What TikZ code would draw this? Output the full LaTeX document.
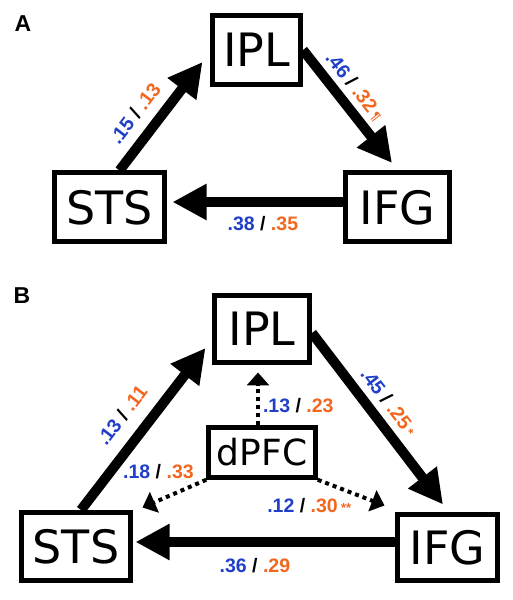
\documentclass[tikz,border=0pt]{standalone}
\usepackage{fontspec}
\newfontfamily\boxfont{DejaVu Sans}
\newfontfamily\labfont{Liberation Sans}
\definecolor{cblue}{HTML}{1F3FC8}
\definecolor{corange}{HTML}{F2661E}
\newcommand\bigFont{\boxfont\fontsize{46}{50}\selectfont}
\newcommand\midFont{\boxfont\fontsize{36}{40}\selectfont}
\newcommand\coefFont{\labfont\bfseries\fontsize{19.5}{22}\selectfont}
\newcommand\pair[2]{{\color{cblue}#1} / {\color{corange}#2}}
\newcommand\sig[1]{\,{\color{corange}\fontsize{13}{13}\selectfont #1}}
\usetikzlibrary{arrows.meta, positioning}
\tikzstyle{region} = [rectangle, draw=black, line width=5pt, inner sep=0pt, minimum height=69pt, text centered, font=\bigFont]
\tikzstyle{small} = [region, line width=4.5pt, minimum height=50pt, font=\midFont]
\tikzstyle{panel} = [font=\labfont\bfseries\fontsize{23}{26}\selectfont]
\tikzstyle{coef} = [inner sep=0pt, font=\coefFont]
\tikzstyle{arrow} = [line width=10pt, -{Triangle[length=34pt,width=34pt]}]
\tikzstyle{dotarrow} = [line width=4pt, dash pattern=on 4pt off 4pt, -{Triangle[length=13pt,width=22pt]}]

\begin{document}
\begin{tikzpicture} [x=1pt, y=1pt]
\useasboundingbox (0,0) rectangle (512,600);
% panel A
\node (A) [panel] at (23,576.5) {A};
\node (IPLa) [region, minimum width=88pt] at (256.5,550) {IPL};
\node (STSa) [region, minimum width=110pt] at (109.5,392.5) {STS};
\node (IFGa) [region, minimum width=104pt, right of=STSa, node distance=288pt] {IFG};

\draw [arrow] ([xshift=10pt]STSa.north) --node[coef, pos=.4, sloped, above=10pt]{\pair{.15}{.13}} ([xshift=-7.5pt,yshift=-12pt]IPLa.west);
\draw [arrow] (IPLa.east) --node[coef, pos=.42, sloped, above=5pt]{\pair{.46}{.32}\sig{¶}} ([xshift=-5.5pt,yshift=7.5pt]IFGa.north);
\draw [arrow] ([yshift=5.5pt]IFGa.west) --node[coef, pos=.47, below=9pt]{\pair{.38}{.35}} ([xshift=5.5pt,yshift=5.5pt]STSa.east);

% panel B
\node (B) [panel] at (22,304) {B};
\node (IPLb) [region, minimum width=95pt, minimum height=67pt] at (262,271) {IPL};
\node (dPFC) [small, minimum width=107pt, below of=IPLb, node distance=123.5pt] {dPFC};
\node (STSb) [region, minimum width=109pt, minimum height=68pt] at (76,53.5) {STS};
\node (IFGb) [region, minimum width=100pt, minimum height=66pt] at (447.5,52.5) {IFG};

\draw [arrow] ([xshift=5pt]STSb.north) --node[coef, pos=.49, sloped, above=13pt]{\pair{.13}{.11}} ([xshift=-6.5pt,yshift=-19pt]IPLb.west);
\draw [arrow] ([yshift=-4pt]IPLb.east) --node[coef, pos=.47, sloped, above=7pt]{\pair{.45}{.25}\sig{*}} ([xshift=-4.5pt,yshift=7.5pt]IFGb.north);
\draw [arrow] ([yshift=5.5pt]IFGb.west) --node[coef, pos=.54, below=11pt]{\pair{.36}{.29}} ([xshift=2.5pt,yshift=4.5pt]STSb.east);
\draw [dotarrow] ([xshift=-4pt]dPFC.north) --node[coef, pos=.37, right=3pt]{\pair{.13}{.23}} ([xshift=-4pt,yshift=-7.5pt]IPLb.south);
\draw [dotarrow] (dPFC.south west) --node[coef, pos=.15, anchor=south east, xshift=-1pt, yshift=3pt]{\pair{.18}{.33}} ([xshift=9.5pt,yshift=2.5pt]STSb.north east);
\draw [dotarrow] (dPFC.south east) --node[coef, pos=.5, anchor=north east, xshift=2pt, yshift=-4pt]{\pair{.12}{.30}\sig{**}} ([xshift=-10.5pt,yshift=6.5pt]IFGb.north west);
\end{tikzpicture}
\end{document}
